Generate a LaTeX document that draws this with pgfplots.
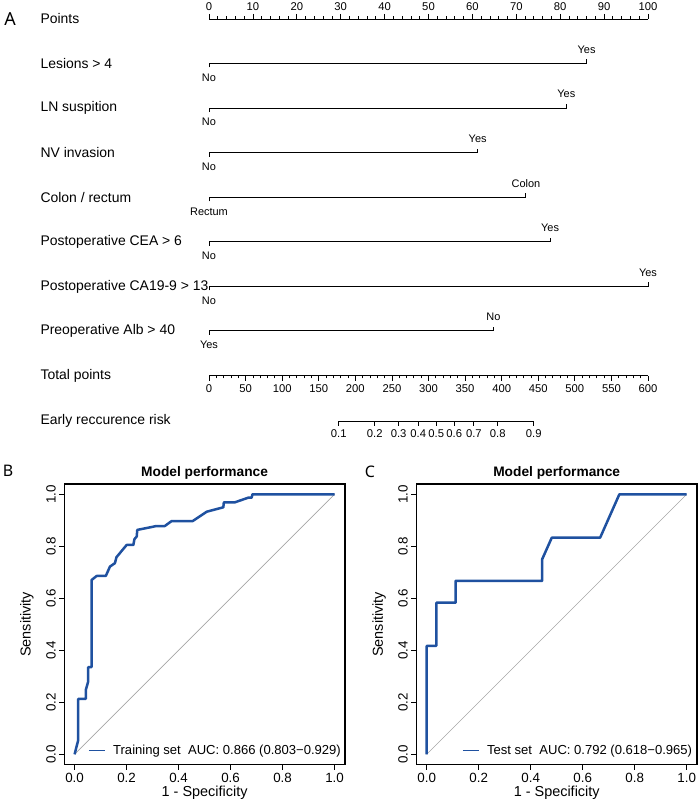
\documentclass[border=0pt]{standalone}
\usepackage{fontspec}
\setmainfont{Liberation Sans}
\newfontfamily\panelfont{Noto Sans}
\usepackage{pgfplots}
\pgfplotsset{compat=1.18}
\definecolor{rocblue}{RGB}{31,81,160}

\pgfplotsset{
 nomoscale/.style={scale only axis, height=10bp, ymin=0, ymax=1, axis y line=none,
   tick align=outside, major tick length=5bp, minor tick length=2.6bp,
   every tick/.style={black, line width=0.8bp}, axis line style={line width=0.8bp},
   /pgf/number format/assume math mode=true,
   tick label style={font=\fontsize{11.3}{13}\selectfont}},
 rocaxis/.style={scale only axis, width=280.8bp, height=280.8bp, anchor=south west,
   xmin=-0.04, xmax=1.04, ymin=-0.04, ymax=1.04,
   xtick={0,0.2,0.4,0.6,0.8,1}, ytick={0,0.2,0.4,0.6,0.8,1},
   xticklabels={0.0,0.2,0.4,0.6,0.8,1.0}, yticklabels={0.0,0.2,0.4,0.6,0.8,1.0},
   tick align=outside, tick pos=left, major tick length=5bp,
   every tick/.style={black, line width=1bp}, axis line style={line width=1.3bp},
   tick label style={font=\fontsize{13.4}{15}\selectfont},
   yticklabel style={rotate=90, anchor=south},
   xlabel={1 - Specificity}, ylabel={Sensitivity},
   label style={font=\fontsize{14.5}{16}\selectfont},
   xlabel style={at={(axis description cs:0.5,-0.1008)}, anchor=center},
   ylabel style={at={(axis description cs:-0.1325,0.5)}, anchor=center},
   title={Model performance},
   title style={at={(axis description cs:0.5,1.0377)}, anchor=center, yshift=-6pt, font=\fontsize{13.8}{16}\selectfont\bfseries},
   legend style={draw=none, fill=none, anchor=east, inner sep=0pt,
     font=\fontsize{13.1}{15}\selectfont},
   legend image code/.code={\draw[rocblue, line width=1.3bp] (0bp,0bp) -- (16bp,0bp); \path (21bp,0bp);},
 },
}

\begin{document}
\begin{tikzpicture}
\path[use as bounding box] (0,0) rectangle (700bp,803bp);

% ---------- Nomogram (A) ----------
\node[font=\panelfont\fontsize{18}{20}\selectfont] at (10bp,784bp) {A};

\begin{scope}[every node/.style={anchor=west, font=\fontsize{14}{16}\selectfont}]
\node at (37bp,784bp) {Points};
\node at (37bp,739.5bp) {Lesions > 4};
\node at (37bp,694.8bp) {LN suspition};
\node at (37bp,650.3bp) {NV invasion};
\node at (37bp,605.5bp) {Colon / rectum};
\node at (37bp,561.2bp) {Postoperative CEA > 6};
\node at (37bp,516.5bp) {Postoperative CA19-9 > 13};
\node at (37bp,472bp) {Preoperative Alb > 40};
\node at (37bp,427bp) {Total points};
\node at (37bp,382bp) {Early reccurence risk};
\end{scope}

% Points scale
\begin{axis}[nomoscale, width=439bp, at={(209bp,784bp)}, anchor=north west,
  axis x line*=top, xmin=0, xmax=100, xtick={0,10,...,100}, minor x tick num=4]
\addplot[draw=none] coordinates {(0,0)};
\end{axis}

% Variable lines
\begin{axis}[scale only axis, hide axis, clip=false, width=439bp, height=440bp,
  at={(209bp,803bp)}, anchor=north west, xmin=0, xmax=100, ymin=0, ymax=440, y dir=reverse]
\addplot[black, line width=1bp] coordinates {(0,67.5)(0,63.5)(86.0,63.5)(86.0,59.5)};
\addplot[black, line width=1bp] coordinates {(0,112.2)(0,108.2)(81.4,108.2)(81.4,104.2)};
\addplot[black, line width=1bp] coordinates {(0,156.7)(0,152.7)(61.2,152.7)(61.2,148.7)};
\addplot[black, line width=1bp] coordinates {(0,201.5)(0,197.5)(72.2,197.5)(72.2,193.5)};
\addplot[black, line width=1bp] coordinates {(0,245.8)(0,241.8)(77.7,241.8)(77.7,237.8)};
\addplot[black, line width=1bp] coordinates {(0,290.5)(0,286.5)(100,286.5)(100,282.5)};
\addplot[black, line width=1bp] coordinates {(0,335)(0,331)(64.8,331)(64.8,327)};
\begin{scope}[every node/.style={font=\fontsize{11}{13}\selectfont}]
\node at (axis cs:0,77.5) {No};      \node at (axis cs:86.0,49.5) {Yes};
\node at (axis cs:0,122.2) {No};     \node at (axis cs:81.4,94.2) {Yes};
\node at (axis cs:0,166.7) {No};     \node at (axis cs:61.2,138.7) {Yes};
\node at (axis cs:0,211.5) {Rectum}; \node at (axis cs:72.2,183.5) {Colon};
\node at (axis cs:0,255.8) {No};     \node at (axis cs:77.7,227.8) {Yes};
\node at (axis cs:0,300.5) {No};     \node at (axis cs:100,272.5) {Yes};
\node at (axis cs:0,345) {Yes};      \node at (axis cs:64.8,317) {No};
\end{scope}
\end{axis}

% Total points scale
\begin{axis}[nomoscale, width=439bp, at={(209bp,427.3bp)}, anchor=south west,
  axis x line*=bottom, xmin=0, xmax=600, xtick={0,50,...,600}, minor x tick num=4]
\addplot[draw=none] coordinates {(0,0)};
\end{axis}

% Risk scale
\begin{axis}[nomoscale, width=195.1bp, at={(338.7bp,382bp)}, anchor=south west,
  axis x line*=bottom, xmin=177.2, xmax=443.8,
  xtick={177.2,226.4,259.1,285.9,310.5,335.1,361.9,394.6,443.8},
  xticklabels={0.1,0.2,0.3,0.4,0.5,0.6,0.7,0.8,0.9}]
\addplot[draw=none] coordinates {(300,0)};
\end{axis}

% ---------- ROC (B) ----------
\node[font=\panelfont\fontsize{16}{18}\selectfont] at (8bp,332bp) {B};
\begin{axis}[rocaxis, at={(64.2bp,38.3bp)}, legend style={at={(axis description cs:0.993,0.05)}}]
\addplot[gray!70, line width=0.7bp, forget plot] coordinates {(0,0)(1,1)};
\addplot[rocblue, line width=2.5bp, line join=round] coordinates {
(0,0) (0.014,0.055) (0.014,0.213) (0.043,0.213) (0.043,0.247) (0.052,0.279) (0.052,0.335)
(0.065,0.335) (0.065,0.670) (0.085,0.686) (0.120,0.686) (0.136,0.722) (0.155,0.735)
(0.161,0.758) (0.200,0.805) (0.226,0.805) (0.230,0.827) (0.239,0.838) (0.241,0.863)
(0.315,0.878) (0.347,0.878) (0.373,0.897) (0.454,0.897) (0.508,0.933) (0.572,0.950)
(0.574,0.969) (0.616,0.969) (0.668,0.987) (0.681,0.987) (0.684,1.0) (1,1)};
\addlegendentry{Training set\ \ AUC: 0.866 (0.803−0.929)}
\end{axis}

% ---------- ROC (C) ----------
\node[font=\panelfont\fontsize{16}{18}\selectfont] at (370bp,331bp) {C};
\begin{axis}[rocaxis, at={(416.3bp,38.3bp)}, legend style={at={(axis description cs:0.99,0.05)}}]
\addplot[gray!70, line width=0.7bp, forget plot] coordinates {(0,0)(1,1)};
\addplot[rocblue, line width=2.5bp, line join=round] coordinates {
(0,0) (0,0.417) (0.037,0.417) (0.037,0.583) (0.111,0.583) (0.111,0.667) (0.444,0.667)
(0.444,0.750) (0.481,0.833) (0.667,0.833) (0.741,1.0) (1,1)};
\addlegendentry{Test set\ \ AUC: 0.792 (0.618−0.965)}
\end{axis}

\end{tikzpicture}
\end{document}
